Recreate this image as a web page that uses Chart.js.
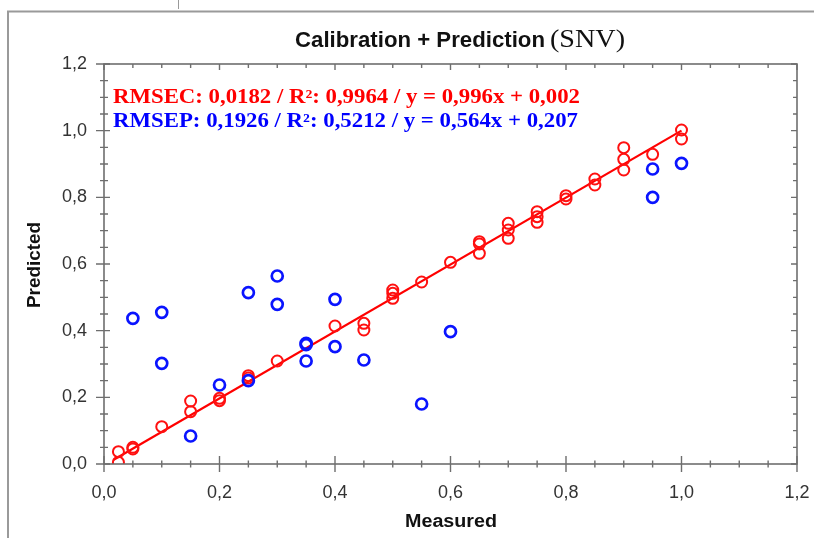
<!DOCTYPE html>
<html>
<head>
<meta charset="utf-8">
<script src="https://cdn.jsdelivr.net/npm/chart.js@4/dist/chart.umd.min.js"></script>
<style>
html,body{margin:0;padding:0;background:#fff;}
#wrap{position:relative;width:814px;height:538px;}
</style>
</head>
<body>
<div id="wrap"><canvas id="c" width="814" height="538"></canvas></div>
<script>
// Calibration (red) points
const calX = [0.025,0.025,0.05,0.05,0.1,0.15,0.15,0.2,0.2,0.25,0.25,0.3,0.4,0.45,0.45,0.5,0.5,0.5,0.55,0.6,0.65,0.65,0.65,0.7,0.7,0.7,0.75,0.75,0.75,0.8,0.8,0.85,0.85,0.9,0.9,0.9,0.95,1.0,1.0];
const calY = [0.037,0.005,0.05,0.045,0.112,0.189,0.157,0.197,0.19,0.265,0.258,0.309,0.414,0.422,0.402,0.522,0.512,0.497,0.546,0.605,0.667,0.66,0.632,0.722,0.702,0.677,0.757,0.742,0.725,0.805,0.795,0.855,0.837,0.949,0.914,0.882,0.929,1.002,0.975];
// Prediction (blue) points
const predX = [0.05,0.1,0.1,0.15,0.2,0.25,0.25,0.3,0.3,0.35,0.35,0.35,0.4,0.4,0.45,0.55,0.6,0.95,0.95,1.0];
const predY = [0.437,0.455,0.302,0.084,0.237,0.514,0.25,0.564,0.479,0.362,0.358,0.309,0.494,0.352,0.312,0.18,0.397,0.885,0.80,0.902];
// Calibration regression line endpoints
const fitX = [0.016,1.0];
const fitY = [0.012,1.0];
// Tick labels
const tickValues = [0,0.2,0.4,0.6,0.8,1.0,1.2];
const tickLabels = ["0,0","0,2","0,4","0,6","0,8","1,0","1,2"];
// Texts
const titleMain = "Calibration + Prediction";
const titleSuffix = "(SNV)";
const calText = "RMSEC: 0,0182 / R\u00B2: 0,9964 / y = 0,996x + 0,002";
const predText = "RMSEP: 0,1926 / R\u00B2: 0,5212 / y = 0,564x + 0,207";
const xTitle = "Measured";
const yTitle = "Predicted";

const toPts = (xs, ys) => xs.map((x, i) => ({x: x, y: ys[i]}));
const fmt = v => {
  const i = tickValues.findIndex(t => Math.abs(t - v) < 1e-6);
  return i >= 0 ? tickLabels[i] : '';
};

// draw text stretched horizontally to a target width
function fitText(c, text, x, y, font, targetW) {
  c.save();
  c.font = font;
  const w = c.measureText(text).width;
  c.translate(x, y);
  c.scale(targetW / w, 1);
  c.fillText(text, 0, 0);
  c.restore();
}

const decor = {
  id: 'decor',
  afterDraw(chart) {
    const c = chart.ctx;
    const xs = chart.scales.x, ys = chart.scales.y;
    const L = xs.left, R = xs.right, T = ys.top, B = ys.bottom;
    c.save();
    // outer frame
    c.strokeStyle = '#9a9a9a';
    c.lineWidth = 2;
    c.beginPath();
    c.moveTo(8, 538); c.lineTo(8, 11.5); c.lineTo(814, 11.5);
    c.stroke();
    c.lineWidth = 1;
    c.beginPath(); c.moveTo(178.5, 0); c.lineTo(178.5, 9); c.stroke();
    // plot frame
    c.strokeStyle = '#6e6e6e';
    c.lineWidth = 1.6;
    c.strokeRect(L, T, R - L, B - T);
    // ticks
    c.lineWidth = 1.4;
    c.beginPath();
    for (let i = 0; i <= 24; i++) {
      const v = i * 0.05;
      const major = i % 4 === 0;
      const px = xs.getPixelForValue(v);
      const py = ys.getPixelForValue(v);
      const b = major ? 8 : 3.5;
      c.moveTo(px, B - b); c.lineTo(px, B + b);
      const t = major ? 6 : 4;
      c.moveTo(px, T); c.lineTo(px, T + t);
      const l = major ? 8 : 4;
      c.moveTo(L - l, py); c.lineTo(L + (major ? 6 : 4), py);
      c.moveTo(R, py); c.lineTo(R - t, py);
    }
    c.stroke();
    // title
    c.fillStyle = '#111';
    c.textBaseline = 'alphabetic';
    c.textAlign = 'left';
    fitText(c, titleMain, 295, 47, 'bold 22px "Liberation Sans", Arial, sans-serif', 250);
    fitText(c, titleSuffix, 550, 47, '26px "Liberation Serif", "Times New Roman", serif', 75);
    // annotations
    c.fillStyle = '#ff0000';
    fitText(c, calText, 113, 103, 'bold 20px "Liberation Serif", "Times New Roman", serif', 467);
    c.fillStyle = '#0000ff';
    fitText(c, predText, 113, 127, 'bold 20px "Liberation Serif", "Times New Roman", serif', 465);
    // axis titles
    c.fillStyle = '#111';
    fitText(c, xTitle, 405, 527, 'bold 18px "Liberation Sans", Arial, sans-serif', 92);
    c.translate(40, 308);
    c.rotate(-Math.PI / 2);
    fitText(c, yTitle, 0, 0, 'bold 18px "Liberation Sans", Arial, sans-serif', 86);
    c.restore();
  }
};

new Chart(document.getElementById('c'), {
  type: 'scatter',
  data: {
    datasets: [
      {
        label: 'Calibration fit',
        type: 'line',
        data: toPts(fitX, fitY),
        borderColor: '#ff0000',
        borderWidth: 2.2,
        pointRadius: 0,
        fill: false,
        order: 3
      },
      {
        label: 'Calibration',
        data: toPts(calX, calY),
        borderColor: '#ff1010',
        backgroundColor: 'rgba(0,0,0,0)',
        pointRadius: 5.5,
        pointBorderWidth: 2,
        order: 2
      },
      {
        label: 'Prediction',
        data: toPts(predX, predY),
        borderColor: '#0a14ff',
        backgroundColor: 'rgba(0,0,0,0)',
        pointRadius: 5.5,
        pointBorderWidth: 2.7,
        order: 1
      }
    ]
  },
  options: {
    responsive: false,
    animation: false,
    devicePixelRatio: 1,
    layout: { padding: { left: 0, right: 17, top: 64, bottom: 0 } },
    plugins: { legend: { display: false }, tooltip: { enabled: false }, title: { display: false } },
    scales: {
      x: {
        type: 'linear', min: 0, max: 1.2,
        afterFit(s) { s.height = 74; },
        afterBuildTicks(s) { s.ticks = tickValues.map(v => ({value: v})); },
        ticks: { callback: fmt, color: '#333', font: { size: 18, family: '"Liberation Sans", Arial, sans-serif' }, padding: 4, maxRotation: 0, autoSkip: false },
        grid: { display: false, drawTicks: true, tickLength: 14 },
        border: { display: false }
      },
      y: {
        type: 'linear', min: 0, max: 1.2,
        afterFit(s) { s.width = 104; },
        afterBuildTicks(s) { s.ticks = tickValues.map(v => ({value: v})); },
        ticks: { callback: fmt, color: '#333', font: { size: 18, family: '"Liberation Sans", Arial, sans-serif' }, padding: 17, autoSkip: false },
        grid: { display: false, drawTicks: false },
        border: { display: false }
      }
    }
  },
  plugins: [decor]
});
</script>
</body>
</html>
